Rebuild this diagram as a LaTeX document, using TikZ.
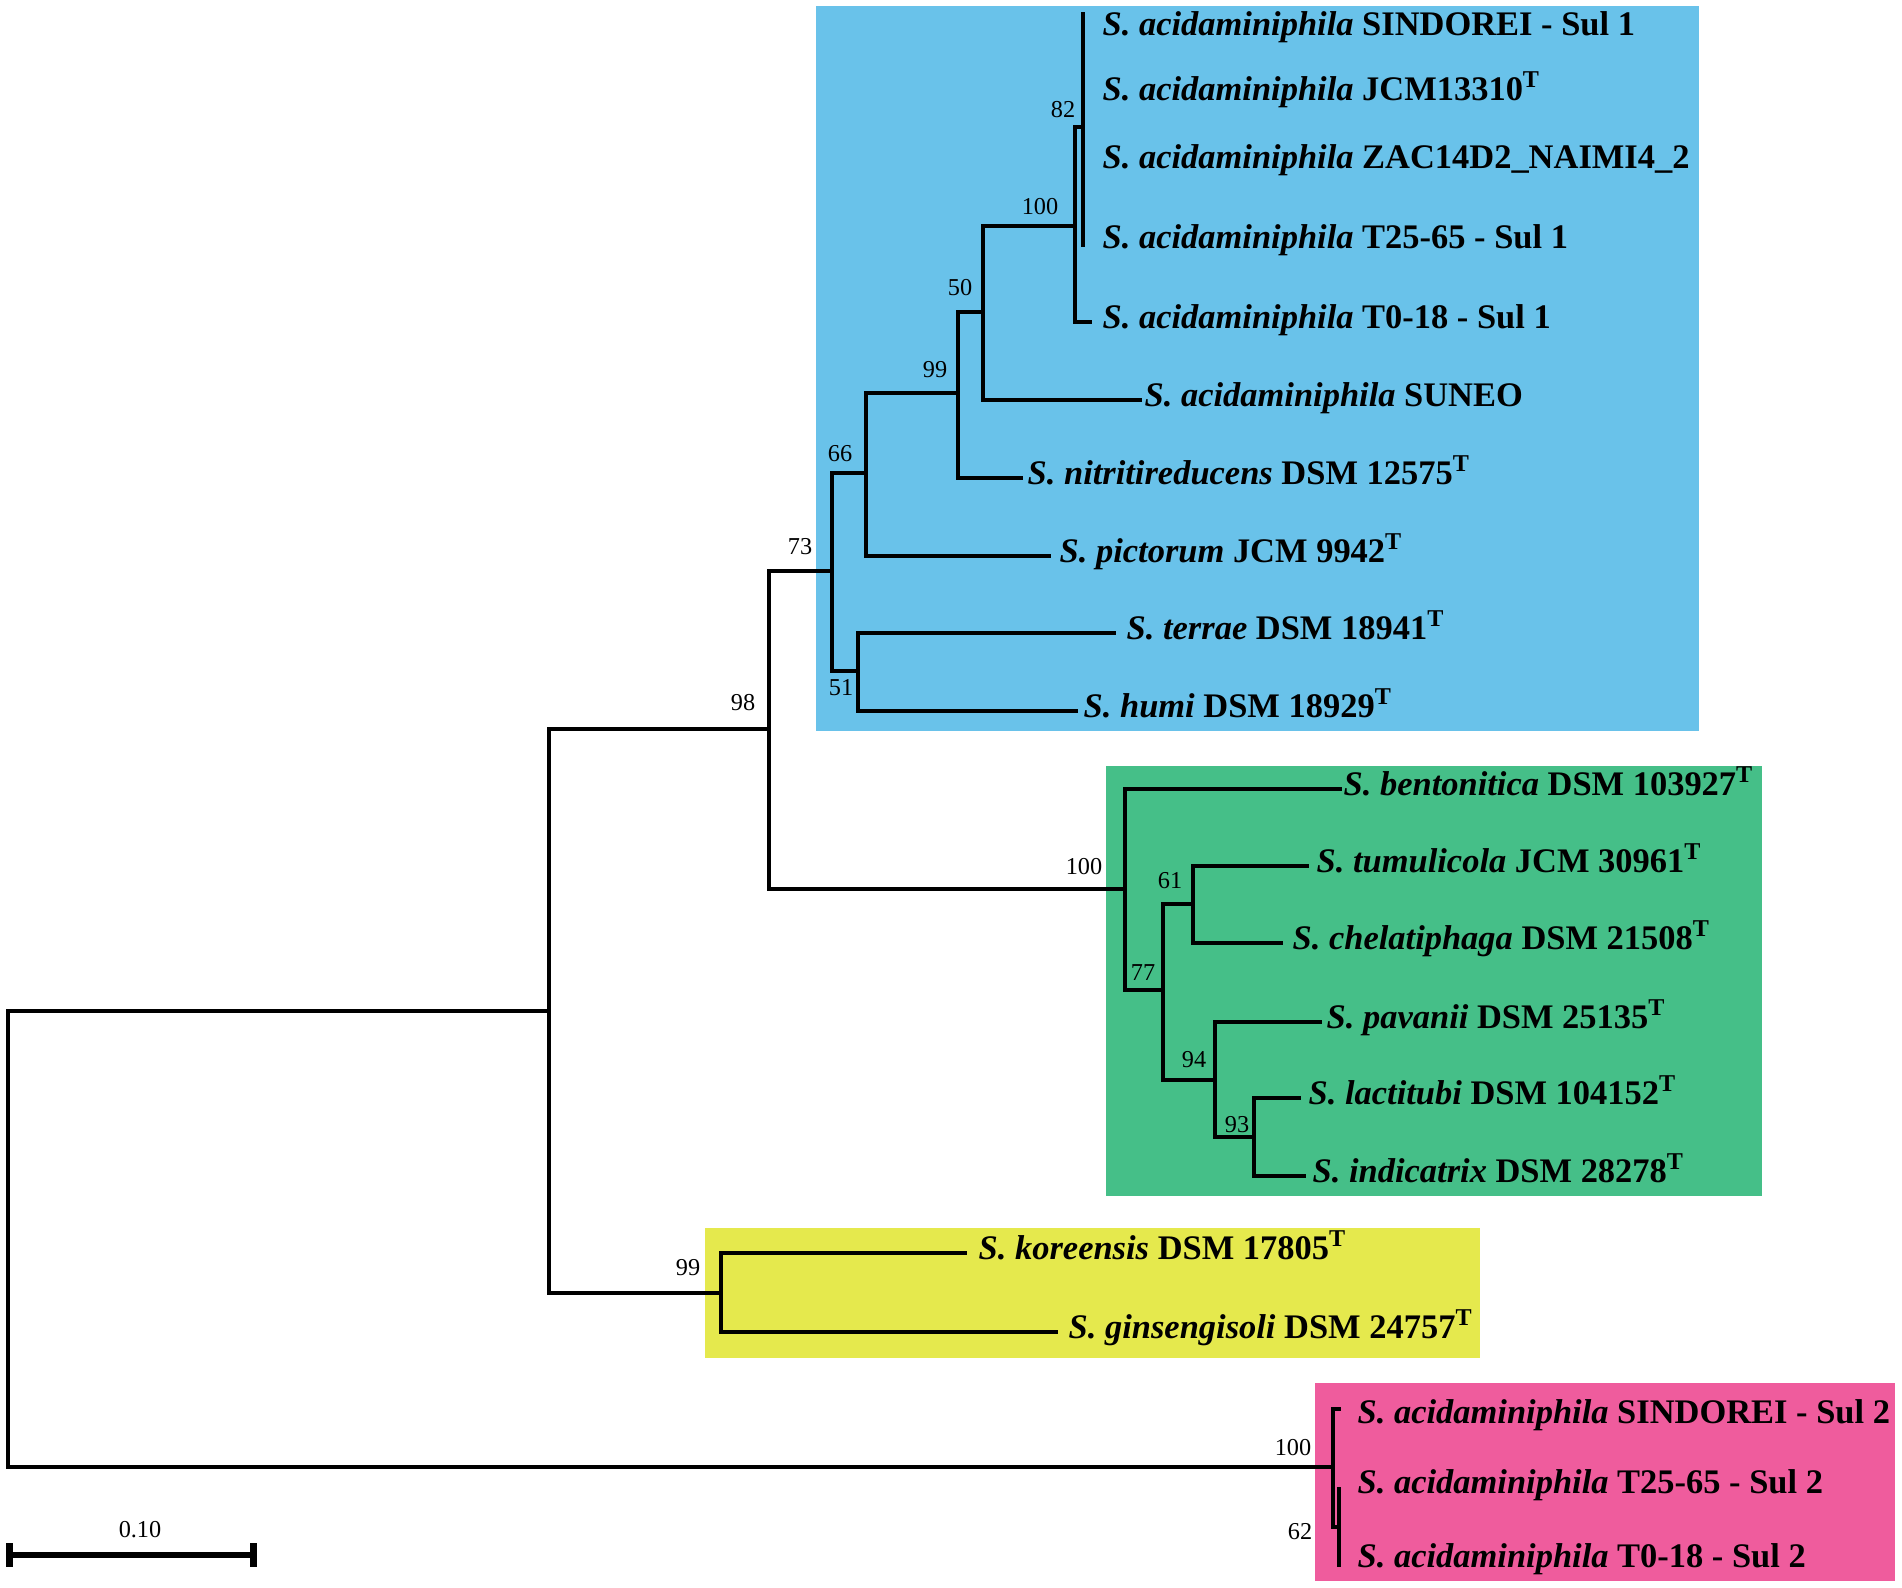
\documentclass[tikz,border=0pt]{standalone}
\usepackage{fontspec}
\setmainfont{Liberation Serif}
\usetikzlibrary{positioning}
\definecolor{cladeblue}{HTML}{69C2EA}
\definecolor{cladegreen}{HTML}{45BF88}
\definecolor{cladeyellow}{HTML}{E5E94D}
\definecolor{cladepink}{HTML}{EF5C9D}
\newcommand{\typestrain}{\textsuperscript{T}}
\tikzset{
  branch/.style={line width=0.033cm},
  leaf/.style={anchor=base west, inner sep=0pt, font=\fontsize{9.8}{11}\selectfont\bfseries},
  boot/.style={inner sep=0pt, font=\fontsize{6.9}{8}\selectfont},
}
\begin{document}
\begin{tikzpicture}[x=0.01cm,y=-0.01cm]
\useasboundingbox (0,0) rectangle (1902,1587);
\fill[cladeblue] (816,6) rectangle (1699,731); % clade boxes
\fill[cladegreen] (1106,766) rectangle (1762,1196);
\fill[cladeyellow] (705,1228) rectangle (1480,1358);
\fill[cladepink] (1315,1383) rectangle (1895,1581);
% internal nodes
\coordinate (root) at (8,1239);
\coordinate (nA) at (549,1011);
\coordinate (n98) at (769,729);
\coordinate (n73) at (832,571);
\coordinate (n66) at (866,473);
\coordinate (n99) at (958,393);
\coordinate (n50) at (983,312);
\coordinate (n100a) at (1075,226);
\coordinate (n82) at (1083,127);
\coordinate (n82top) at (1083,12);
\coordinate (n82bot) at (1083,247);
\coordinate (n51) at (858,671);
\coordinate (n100b) at (1125,889);
\coordinate (n77) at (1163,990);
\coordinate (n61) at (1193,904);
\coordinate (n94) at (1215,1080);
\coordinate (n93) at (1254,1137);
\coordinate (n99b) at (721,1293);
\coordinate (n100c) at (1333,1467);
\coordinate (n62) at (1339,1527);
% tips
\coordinate (t5) at (1092,322);
\coordinate (t6) at (1142,400);
\coordinate (t7) at (1023,478);
\coordinate (t8) at (1051,556);
\coordinate (t9) at (1116,633);
\coordinate (t10) at (1078,711);
\coordinate (t11) at (1342,789);
\coordinate (t12) at (1309,866);
\coordinate (t13) at (1283,943);
\coordinate (t14) at (1322,1022);
\coordinate (t15) at (1301,1098);
\coordinate (t16) at (1306,1176);
\coordinate (t17) at (967,1253);
\coordinate (t18) at (1058,1332);
\coordinate (t19) at (1341,1409);
\coordinate (t20) at (1339,1487);
\coordinate (t21) at (1339,1567);
% branches
\draw[branch] (root) |- (nA) (root) |- (n100c);
\draw[branch] (nA) |- (n98) (nA) |- (n99b);
\draw[branch] (n98) |- (n73) (n98) |- (n100b);
\draw[branch] (n73) |- (n66) (n73) |- (n51);
\draw[branch] (n66) |- (n99) (n66) |- (t8);
\draw[branch] (n99) |- (n50) (n99) |- (t7);
\draw[branch] (n50) |- (n100a) (n50) |- (t6);
\draw[branch] (n100a) |- (n82) (n100a) |- (t5);
\draw[branch] (n82) -- (n82top) (n82) -- (n82bot);
\draw[branch] (n51) |- (t9) (n51) |- (t10);
\draw[branch] (n100b) |- (t11) (n100b) |- (n77);
\draw[branch] (n77) |- (n61) (n77) |- (n94);
\draw[branch] (n61) |- (t12) (n61) |- (t13);
\draw[branch] (n94) |- (t14) (n94) |- (n93);
\draw[branch] (n93) |- (t15) (n93) |- (t16);
\draw[branch] (n99b) |- (t17) (n99b) |- (t18);
\draw[branch] (n100c) |- (t19) (n100c) |- (n62);
\draw[branch] (n62) |- (t20) (n62) |- (t21);
% leaf labels
\node[leaf] (l1) at (1102,35) {\textit{S. acidaminiphila} SINDOREI - Sul 1};
\node[leaf] (l2) at (1102,100) {\textit{S. acidaminiphila} JCM13310\typestrain};
\node[leaf] (l3) at (1102,168) {\textit{S. acidaminiphila} ZAC14D2\_NAIMI4\_2};
\node[leaf] (l4) at (1102,248) {\textit{S. acidaminiphila} T25-65 - Sul 1};
\node[leaf] (l5) at (1102,328) {\textit{S. acidaminiphila} T0-18 - Sul 1};
\node[leaf] (l6) at (1144,406) {\textit{S. acidaminiphila} SUNEO};
\node[leaf] (l7) at (1027,484) {\textit{S. nitritireducens} DSM 12575\typestrain};
\node[leaf] (l8) at (1059,562) {\textit{S. pictorum} JCM 9942\typestrain};
\node[leaf] (l9) at (1126,639) {\textit{S. terrae} DSM 18941\typestrain};
\node[leaf] (l10) at (1083,717) {\textit{S. humi} DSM 18929\typestrain};
\node[leaf] (l11) at (1343,795) {\textit{S. bentonitica} DSM 103927\typestrain};
\node[leaf] (l12) at (1316,872) {\textit{S. tumulicola} JCM 30961\typestrain};
\node[leaf] (l13) at (1292,949) {\textit{S. chelatiphaga} DSM 21508\typestrain};
\node[leaf] (l14) at (1326,1028) {\textit{S. pavanii} DSM 25135\typestrain};
\node[leaf] (l15) at (1308,1104) {\textit{S. lactitubi} DSM 104152\typestrain};
\node[leaf] (l16) at (1312,1182) {\textit{S. indicatrix} DSM 28278\typestrain};
\node[leaf] (l17) at (978,1259) {\textit{S. koreensis} DSM 17805\typestrain};
\node[leaf] (l18) at (1068,1338) {\textit{S. ginsengisoli} DSM 24757\typestrain};
\node[leaf] (l19) at (1357,1423) {\textit{S. acidaminiphila} SINDOREI - Sul 2};
\node[leaf] (l20) at (1357,1493) {\textit{S. acidaminiphila} T25-65 - Sul 2};
\node[leaf] (l21) at (1357,1567) {\textit{S. acidaminiphila} T0-18 - Sul 2};
% bootstrap values
\node[boot] (b82) at (1063,110) {82};
\node[boot] (b100a) at (1040,207) {100};
\node[boot] (b50) at (960,288) {50};
\node[boot] (b99) at (935,370) {99};
\node[boot] (b66) at (840,454) {66};
\node[boot] (b73) at (800,547) {73};
\node[boot] (b51) at (841,688) {51};
\node[boot] (b98) at (743,703) {98};
\node[boot] (b100b) at (1084,867) {100};
\node[boot] (b61) at (1170,881) {61};
\node[boot] (b77) at (1143,973) {77};
\node[boot] (b94) at (1194,1060) {94};
\node[boot] (b93) at (1237,1125) {93};
\node[boot] (b99b) at (688,1268) {99};
\node[boot] (b100c) at (1293,1448) {100};
\node[boot] (b62) at (1300,1532) {62};
% scale bar
\coordinate (sb1) at (9.5,1555);
\coordinate (sb2) at (253.5,1555);
\draw[line width=0.06cm] (sb1) -- (sb2);
\draw[line width=0.07cm] ([yshift=0.12cm]sb1) -- ([yshift=-0.12cm]sb1);
\draw[line width=0.07cm] ([yshift=0.12cm]sb2) -- ([yshift=-0.12cm]sb2);
\node[boot] (sbl) at (140,1530) {0.10};
\end{tikzpicture}
\end{document}
